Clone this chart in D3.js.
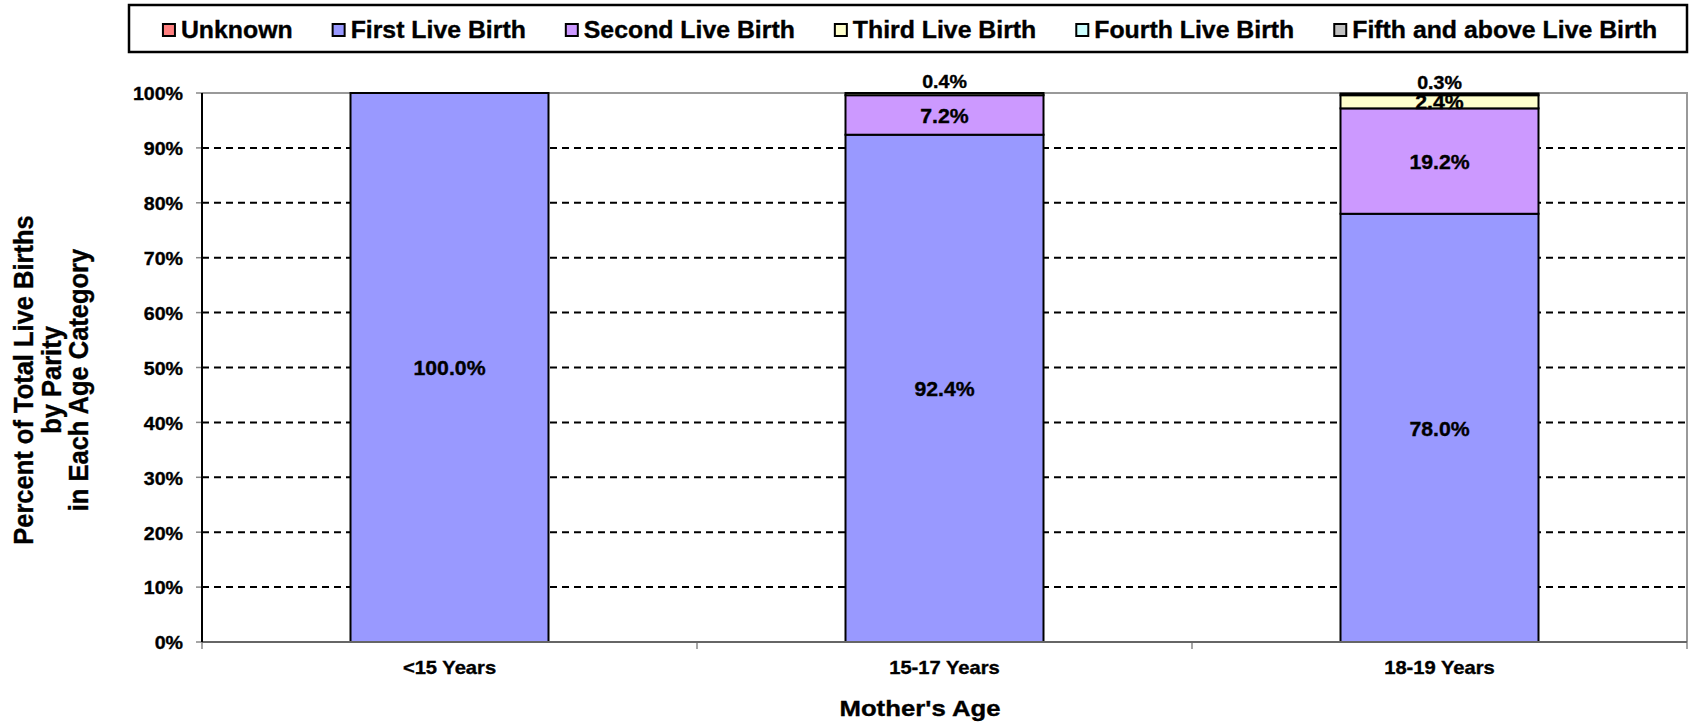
<!DOCTYPE html>
<html>
<head>
<meta charset="utf-8">
<script src="https://cdn.jsdelivr.net/npm/d3@7"></script>
<style>
  html, body { margin: 0; padding: 0; background: #fff; }
  svg { display: block; font-family: Arial, "Liberation Sans", sans-serif; font-weight: bold; }
  text { stroke: #000; stroke-width: 0.35px; }
</style>
</head>
<body>
<div id="container"></div>
<script>
// chart data
var categories = ["<15 Years", "15-17 Years", "18-19 Years"];
var seriesNames = ["Unknown", "First Live Birth", "Second Live Birth", "Third Live Birth", "Fourth Live Birth", "Fifth and above Live Birth"];
var unknownBirth = [0, 0, 0];
var firstBirth = [100.0, 92.4, 78.0];
var secondBirth = [0, 7.2, 19.2];
var thirdBirth = [0, 0.4, 2.4];
var fourthBirth = [0, 0, 0.3];
var fifthBirth = [0, 0, 0];
var yTicks = [0, 10, 20, 30, 40, 50, 60, 70, 80, 90, 100];
var colors = ["#FF8080", "#9999FF", "#CC99FF", "#FFFFCC", "#CCFFFF", "#C0C0C0"];

(function () {
  var width = 1690, height = 724;
  var margin = {left: 202, right: 3, top: 93, bottom: 82};

  var allValues = [unknownBirth, firstBirth, secondBirth, thirdBirth, fourthBirth, fifthBirth];
  var rows = categories.map(function (c, i) {
    var r = {cat: c};
    seriesNames.forEach(function (s, j) { r[s] = allValues[j][i]; });
    return r;
  });
  var stacked = d3.stack().keys(seriesNames)(rows);

  var svg = d3.select("#container").append("svg")
      .attr("width", width)
      .attr("height", height);

  var x = d3.scaleBand()
      .domain(categories)
      .range([margin.left, width - margin.right])
      .paddingInner(0.6)
      .paddingOuter(0.3);
  var y = d3.scaleLinear()
      .domain([0, 100])
      .range([height - margin.bottom, margin.top]);

  var x0 = margin.left, x1 = width - margin.right;

  // text at (px,py), stretched sideways a bit like the original
  function label(g, txt, px, py, size, sx, anchor, baseline) {
    return g.append("text")
      .attr("transform", "translate(" + px + "," + py + ") scale(" + sx + ",1)")
      .attr("font-size", size)
      .attr("text-anchor", anchor || "middle")
      .attr("dominant-baseline", baseline || "auto")
      .attr("fill", "#000")
      .text(txt);
  }

  // plot frame (top + right, grey)
  svg.append("path")
    .attr("d", "M" + x0 + "," + y(100) + "H" + x1 + "V" + y(0))
    .attr("fill", "none")
    .attr("stroke", "#999")
    .attr("stroke-width", 2);

  // dashed grid
  svg.append("g").selectAll("line")
    .data(yTicks.filter(function (t) { return t > 0 && t < 100; }))
    .enter().append("line")
    .attr("x1", x0).attr("x2", x1)
    .attr("y1", function (d) { return y(d); })
    .attr("y2", function (d) { return y(d); })
    .attr("stroke", "#000")
    .attr("stroke-width", 2)
    .attr("stroke-dasharray", "7,5");

  // y ticks + labels
  var yg = svg.append("g");
  yTicks.forEach(function (t) {
    yg.append("line")
      .attr("x1", x0 - 6).attr("x2", x0)
      .attr("y1", y(t)).attr("y2", y(t))
      .attr("stroke", "#888").attr("stroke-width", 1.5);
    label(yg, t + "%", x0 - 19, y(t) + 1, 18.5, 1.06, "end", "central");
  });

  // x ticks at band boundaries
  var step = x.step();
  d3.range(categories.length + 1).forEach(function (i) {
    var xx = x0 + i * step;
    svg.append("line")
      .attr("x1", xx).attr("x2", xx)
      .attr("y1", y(0)).attr("y2", y(0) + 7)
      .attr("stroke", "#888").attr("stroke-width", 1.5);
  });

  // bars
  var bars = svg.append("g");
  stacked.forEach(function (layer, j) {
    layer.forEach(function (d, i) {
      if (d[1] - d[0] <= 0) return;
      bars.append("rect")
        .attr("x", x(categories[i]))
        .attr("width", x.bandwidth())
        .attr("y", y(d[1]))
        .attr("height", y(d[0]) - y(d[1]))
        .attr("fill", colors[j])
        .attr("stroke", "#000")
        .attr("stroke-width", 2);
    });
  });

  // axes lines
  svg.append("line")
    .attr("x1", x0).attr("x2", x1)
    .attr("y1", y(0)).attr("y2", y(0))
    .attr("stroke", "#666").attr("stroke-width", 2);
  svg.append("line")
    .attr("x1", x0).attr("x2", x0)
    .attr("y1", y(0)).attr("y2", y(100))
    .attr("stroke", "#000").attr("stroke-width", 2);

  // value labels
  var lg = svg.append("g");
  var fmt = d3.format(".1f");
  stacked.forEach(function (layer, j) {
    layer.forEach(function (d, i) {
      var v = d[1] - d[0];
      if (v <= 0) return;
      var cx = x(categories[i]) + x.bandwidth() / 2;
      if (v < 1) {
        label(lg, fmt(v) + "%", cx, y(d[1]) - 5, 18, 1.09, "middle", "auto");
      } else {
        label(lg, fmt(v) + "%", cx, (y(d[0]) + y(d[1])) / 2 + 1, 19.5, 1.09, "middle", "central");
      }
    });
  });

  // category labels
  categories.forEach(function (c) {
    label(svg, c, x(c) + x.bandwidth() / 2, y(0) + 32, 18, 1.12, "middle", "auto");
  });

  // axis titles
  label(svg, "Mother's Age", 920, 716, 23, 1.12, "middle", "auto");

  var titleLines = ["Percent of Total Live Births", "by Parity", "in Each Age Category"];
  titleLines.forEach(function (t, i) {
    svg.append("text")
      .attr("transform", "translate(" + (33 + i * 27.5) + ",380) rotate(-90) scale(1,1.05)")
      .attr("font-size", 25.5)
      .attr("text-anchor", "middle")
      .text(t);
  });

  // legend
  var boxX = 129, boxW = 1558, boxY = 5, boxH = 47;
  svg.append("rect")
    .attr("x", boxX).attr("y", boxY)
    .attr("width", boxW).attr("height", boxH)
    .attr("fill", "#fff")
    .attr("stroke", "#000")
    .attr("stroke-width", 2.5);

  var leg = svg.append("g");
  var lsx = 1.08;
  var markerSize = 12, markerGap = 6, itemGap = 40;
  var items = seriesNames.map(function (s, j) {
    var g = leg.append("g");
    g.append("rect")
      .attr("width", markerSize).attr("height", markerSize)
      .attr("y", 24)
      .attr("fill", colors[j])
      .attr("stroke", "#000")
      .attr("stroke-width", 2);
    var t = g.append("text")
      .attr("font-size", 23)
      .attr("transform", "translate(" + (markerSize + markerGap) + ",37.5) scale(" + lsx + ",1)")
      .text(s);
    var w = markerSize + markerGap + t.node().getComputedTextLength() * lsx;
    return {g: g, w: w};
  });
  var total = d3.sum(items, function (d) { return d.w; }) + itemGap * (items.length - 1);
  var cur = boxX + (boxW - total) / 2 + 2;
  items.forEach(function (it) {
    it.g.attr("transform", "translate(" + cur + ",0)");
    cur += it.w + itemGap;
  });
})();
</script>
</body>
</html>
